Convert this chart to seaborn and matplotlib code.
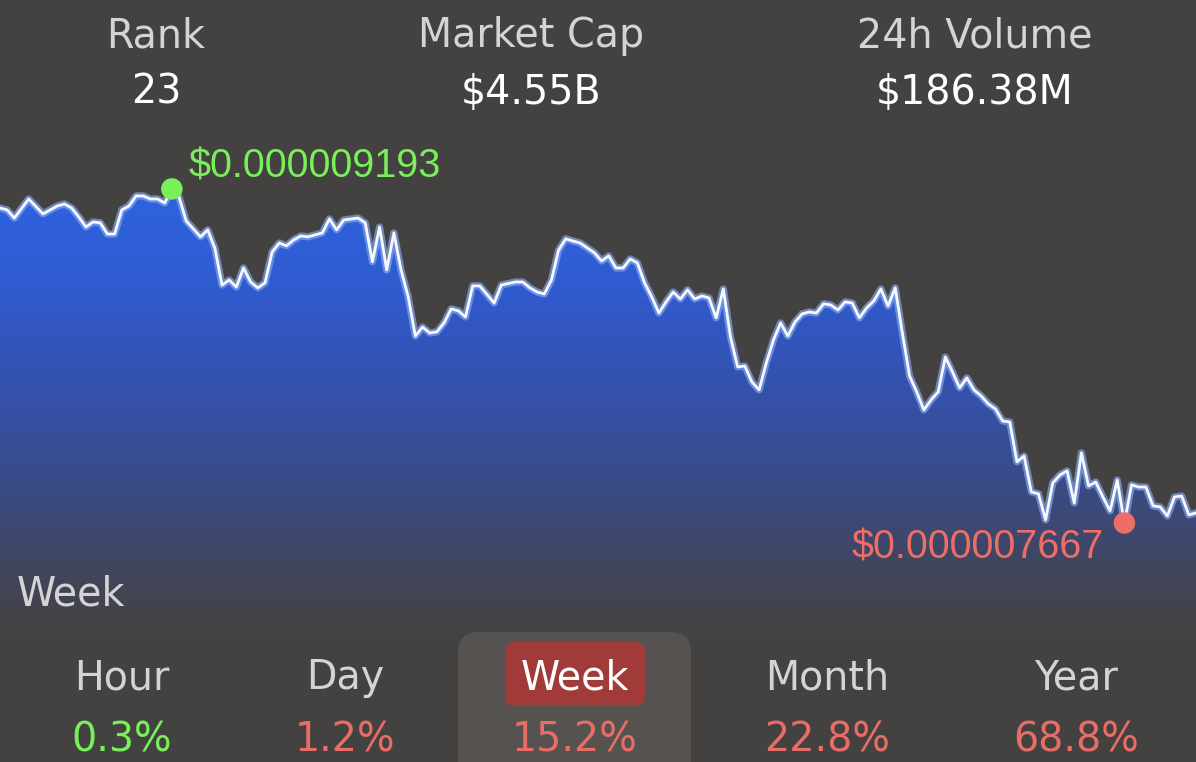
import numpy as np
import matplotlib
matplotlib.use("Agg")
import matplotlib.pyplot as plt
import seaborn as sns
from matplotlib.patches import FancyBboxPatch

# ---------------- data ----------------
hours = [0, 1, 2, 4, 6, 8, 9, 10, 11, 12, 13, 14, 15, 16, 17, 18, 19, 20, 21, 22, 23, 24, 25, 26,
         28, 29, 30, 31, 32, 33, 34, 35, 36, 37, 38, 39, 40, 41, 42, 43, 45, 46, 47, 48, 50, 51,
         52, 53, 54, 55, 56, 57, 58, 59, 60, 61, 62, 63, 64, 65, 66, 67, 69, 70, 72, 73, 74, 75,
         76, 77, 78, 79, 80, 81, 83, 84, 85, 86, 87, 88, 89, 90, 91, 92, 93, 94, 95, 96, 97, 98,
         99, 100, 101, 102, 103, 104, 105, 106, 107, 108, 109, 110, 111, 112, 113, 114, 115, 116,
         117, 118, 119, 120, 121, 122, 123, 124, 125, 126, 127, 128, 129, 130, 131, 132, 133, 134,
         135, 136, 137, 138, 139, 140, 141, 142, 143, 144, 145, 146, 147, 148, 149, 150, 151, 152,
         153, 154, 155, 156, 157, 158, 159, 160, 161, 162, 163, 164, 165, 166, 167]
# price in units of 1e-6 USD
prices = [9.106, 9.097, 9.060, 9.147, 9.079, 9.115, 9.124, 9.106, 9.065, 9.019, 9.042, 9.038,
          8.987, 8.987, 9.097, 9.115, 9.161, 9.161, 9.147, 9.147, 9.129, 9.193, 9.156, 9.047,
          8.974, 9.006, 8.923, 8.754, 8.777, 8.745, 8.832, 8.768, 8.741, 8.764, 8.905, 8.946,
          8.933, 8.960, 8.978, 8.974, 8.992, 9.056, 9.006, 9.051, 9.060, 9.038, 8.860, 9.019,
          8.823, 8.992, 8.823, 8.700, 8.521, 8.562, 8.535, 8.540, 8.581, 8.645, 8.636, 8.608,
          8.750, 8.750, 8.672, 8.754, 8.768, 8.768, 8.741, 8.722, 8.713, 8.777, 8.914, 8.965,
          8.955, 8.946, 8.901, 8.864, 8.887, 8.832, 8.832, 8.873, 8.855, 8.764, 8.700, 8.626,
          8.677, 8.722, 8.690, 8.732, 8.690, 8.704, 8.695, 8.604, 8.736, 8.517, 8.380, 8.384,
          8.311, 8.275, 8.398, 8.503, 8.581, 8.521, 8.585, 8.622, 8.631, 8.626, 8.668, 8.663,
          8.640, 8.677, 8.672, 8.604, 8.649, 8.681, 8.736, 8.658, 8.741, 8.535, 8.339, 8.266,
          8.183, 8.229, 8.266, 8.425, 8.357, 8.284, 8.330, 8.275, 8.247, 8.211, 8.188, 8.133,
          8.128, 7.946, 7.973, 7.809, 7.800, 7.681, 7.850, 7.886, 7.905, 7.758, 7.987, 7.836,
          7.854, 7.786, 7.722, 7.863, 7.667, 7.841, 7.831, 7.831, 7.745, 7.740, 7.699, 7.786,
          7.790, 7.704, 7.713]

stat_labels = ["Rank", "Market Cap", "24h Volume"]
stat_values = ["23", "$4.55B", "$186.38M"]
periods = ["Hour", "Day", "Week", "Month", "Year"]
changes = ["0.3%", "1.2%", "15.2%", "22.8%", "68.8%"]
change_up = [True, False, False, False, False]
selected_period = "Week"

# ---------------- style ----------------
W, H = 1196, 762
BG = "#444240"
GREEN = "#78f05a"
RED = "#ee6d67"
LABEL_GRAY = "#d4d4d4"
FS = 28.5

sns.set_theme(style="dark")
plt.rcParams["font.family"] = ["DejaVu Sans"]

fig = plt.figure(figsize=(W / 100, H / 100), dpi=100, facecolor=BG)

ax = fig.add_axes([0, 0, 1, 1])
ax.set_facecolor("none")
YMIN, YMAX = 6.575, 10.056
XMIN, XMAX = 0, 167

# gradient fill under the line
poly = ax.fill_between(hours, prices, YMIN, color="none", lw=0)
pix = np.arange(H)
stops_y = [0, 189, 300, 420, 520, 600, 665, H]
stops_r = [46, 46, 48, 54, 60, 66, 68, 68]
stops_g = [99, 99, 90, 80, 74, 70, 66, 66]
stops_b = [224, 224, 205, 165, 125, 95, 64, 64]
stops_a = [1.0, 1.0, 1.0, 0.97, 0.9, 0.55, 0.0, 0.0]
grad = np.zeros((H, 1, 4))
grad[:, 0, 0] = np.interp(pix, stops_y, stops_r) / 255
grad[:, 0, 1] = np.interp(pix, stops_y, stops_g) / 255
grad[:, 0, 2] = np.interp(pix, stops_y, stops_b) / 255
grad[:, 0, 3] = np.interp(pix, stops_y, stops_a)
im = ax.imshow(grad, extent=[XMIN, XMAX, YMIN, YMAX], origin="upper",
               aspect="auto", zorder=1, interpolation="bilinear")
im.set_clip_path(poly.get_paths()[0], transform=ax.transData)

# line with glow
sns.lineplot(x=hours, y=prices, ax=ax, color="#86aaf5", lw=5.2, alpha=0.65, zorder=3)
sns.lineplot(x=hours, y=prices, ax=ax, color="#f5f8ff", lw=2.0, zorder=4)

# max / min markers
imax = int(np.argmax(prices))
imin = int(np.argmin(prices))
sns.scatterplot(x=[hours[imax]], y=[prices[imax]], ax=ax, color=GREEN, s=240,
                edgecolor="none", zorder=6)
sns.scatterplot(x=[hours[imin]], y=[prices[imin]], ax=ax, color=RED, s=240,
                edgecolor="none", zorder=6)
ax.annotate(f"${prices[imax] * 1e-6:.9f}", xy=(hours[imax], prices[imax]),
            xytext=(12.2, 8.0), textcoords="offset points", ha="left", va="baseline",
            color=GREEN, fontsize=FS, family=["Liberation Sans", "DejaVu Sans"], zorder=7)
ax.annotate(f"${prices[imin] * 1e-6:.9f}", xy=(hours[imin], prices[imin]),
            xytext=(-15.0, -25.5), textcoords="offset points", ha="right", va="baseline",
            color=RED, fontsize=FS, family=["Liberation Sans", "DejaVu Sans"], zorder=7)

ax.set_xlim(XMIN, XMAX)
ax.set_ylim(YMIN, YMAX)
ax.axis("off")

# ---------------- UI overlay (pixel coordinates) ----------------
ov = fig.add_axes([0, 0, 1, 1])
ov.set_xlim(0, W)
ov.set_ylim(H, 0)
ov.patch.set_alpha(0)
ov.axis("off")

stat_x = [156, 531, 975]
for x, lab, val in zip(stat_x, stat_labels, stat_values):
    ov.text(x, 47, lab, ha="center", va="baseline", fontsize=FS, color=LABEL_GRAY)
    ov.text(x, 104, val, ha="center", va="baseline", fontsize=FS, color="white")

ov.text(17, 606, selected_period, ha="left", va="baseline", fontsize=FS, color=LABEL_GRAY)

tab_x = [122, 345, 575, 827, 1076]
sel = periods.index(selected_period)
ov.add_patch(FancyBboxPatch((458, 632), 233, 170,
                            boxstyle="round,pad=0,rounding_size=20",
                            facecolor="#595654", edgecolor="none", alpha=0.85, zorder=1))
ov.add_patch(FancyBboxPatch((505, 642), 140, 64,
                            boxstyle="round,pad=0,rounding_size=10",
                            facecolor="#a13b39", edgecolor="none", zorder=2))
for i, (x, p, c, up) in enumerate(zip(tab_x, periods, changes, change_up)):
    ov.text(x, 689, p, ha="center", va="baseline", fontsize=FS,
            color="white" if i == sel else LABEL_GRAY, zorder=3)
    ov.text(x, 752, c, ha="center", va="baseline", fontsize=FS,
            color=GREEN if up else "#e96d67", zorder=3)

fig.savefig("out.png", dpi=100, facecolor=BG)
